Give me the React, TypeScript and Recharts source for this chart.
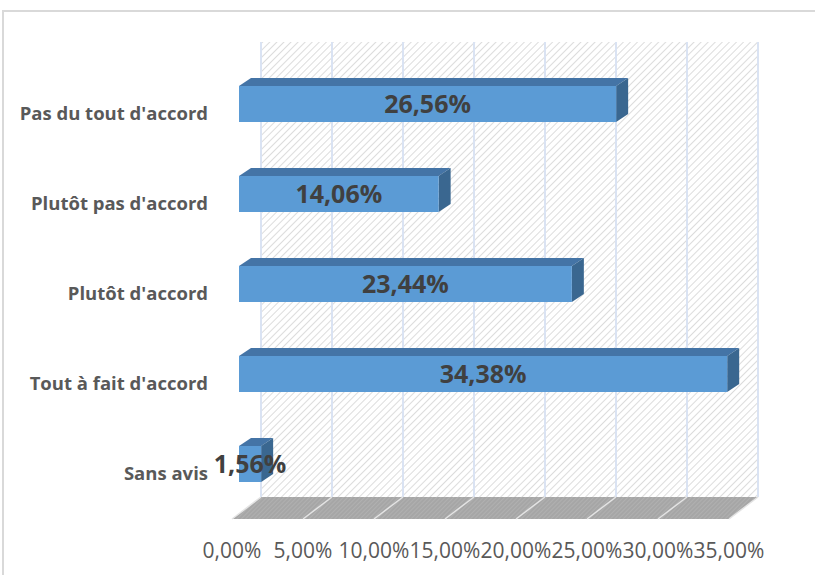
import React from 'react';
import { BarChart, Bar, XAxis, YAxis, ReferenceArea, LabelList } from 'recharts';

const categories = ["Pas du tout d'accord", "Plutôt pas d'accord", "Plutôt d'accord", "Tout à fait d'accord", 'Sans avis'];
const values = [26.56, 14.06, 23.44, 34.38, 1.56];
const xTicks = [0, 5, 10, 15, 20, 25, 30, 35];

const data = categories.map((name, i) => ({ name, value: values[i] }));

const fmt = (v: number) => v.toFixed(2).replace('.', ',') + '%';

// 3D look: offsets for the back wall / floor and for the bar boxes
const BACK = 22;
const FRONT = -7;
const DX = 12;
const DY = 8;

const Wall = (props: any) => {
  const { x, y, width, height } = props;
  const k = width / (xTicks[xTicks.length - 1] - xTicks[0]);
  const top = y - 17;
  const bottom = y + height - 12;
  const front = bottom + 22;
  return (
    <g>
      <defs>
        <pattern id="hatch" width="5" height="5" patternUnits="userSpaceOnUse" patternTransform="rotate(45)">
          <rect width="5" height="5" fill="#ffffff" />
          <line x1="0" y1="0" x2="0" y2="5" stroke="#d6d6d6" strokeWidth="1.7" />
        </pattern>
        <pattern id="floorHatch" width="3" height="3" patternUnits="userSpaceOnUse" patternTransform="rotate(45)">
          <rect width="3" height="3" fill="#a6a6a6" />
          <line x1="0" y1="0" x2="0" y2="3" stroke="#bababa" strokeWidth="1" />
        </pattern>
      </defs>
      <rect x={x + BACK} y={top} width={width} height={bottom - top} fill="url(#hatch)" />
      {xTicks.map((t) => (
        <line key={'w' + t} x1={x + t * k + BACK} x2={x + t * k + BACK} y1={top} y2={bottom} stroke="#dae3f3" strokeWidth={2} />
      ))}
      <polygon
        points={`${x + BACK},${bottom} ${x + width + BACK},${bottom} ${x + width + FRONT},${front} ${x + FRONT},${front}`}
        fill="url(#floorHatch)"
      />
      {xTicks.map((t) => (
        <line key={'f' + t} x1={x + t * k + BACK} y1={bottom} x2={x + t * k + FRONT} y2={front} stroke="#e4e4e4" strokeWidth={1.5} />
      ))}
    </g>
  );
};

const Box = (props: any) => {
  const { x, y, width, height } = props;
  if (!width) return null;
  return (
    <g>
      <polygon points={`${x},${y} ${x + DX},${y - DY} ${x + width + DX},${y - DY} ${x + width},${y}`} fill="#4474a6" />
      <polygon points={`${x + width},${y} ${x + width + DX},${y - DY} ${x + width + DX},${y + height - DY} ${x + width},${y + height}`} fill="#3a6790" />
      <rect x={x} y={y} width={width} height={height} fill="#5b9bd5" />
    </g>
  );
};

const BarValue = (props: any) => {
  const { x, y, width, height, value } = props;
  return (
    <text x={x + width / 2} y={y + height / 2 + 9} textAnchor="middle" fill="#404040" fontSize={25} fontWeight={700} fontFamily="'Open Sans', sans-serif">
      {fmt(value)}
    </text>
  );
};

const CatTick = (props: any) => {
  const { x, y, payload } = props;
  return (
    <text x={x} y={y + 16} textAnchor="end" fill="#595959" fontSize={18.5} fontWeight={700} fontFamily="'Open Sans', sans-serif">
      {payload.value}
    </text>
  );
};

const PctTick = (props: any) => {
  const { x, y, payload } = props;
  return (
    <text x={x + FRONT} y={y + 47} textAnchor="middle" fill="#595959" fontSize={21} fontFamily="'Open Sans', sans-serif">
      {fmt(payload.value)}
    </text>
  );
};

export default function App() {
  return (
    <div style={{ position: 'absolute', left: 0, top: 0, width: 815, height: 575, background: '#fff', overflow: 'hidden' }}>
      <div style={{ position: 'absolute', left: 2, top: 10, width: 900, height: 700, borderTop: '2px solid #d9d9d9', borderLeft: '2px solid #d9d9d9' }} />
      <div style={{ position: 'absolute', left: 0, top: 0 }}>
        <BarChart width={815} height={575} data={data} layout="vertical" margin={{ top: 59, right: 79, bottom: 6, left: 9 }}>
          <XAxis type="number" domain={[0, 35]} ticks={xTicks} axisLine={false} tickLine={false} tickSize={0} height={60} tick={<PctTick />} interval={0} />
          <YAxis type="category" dataKey="name" width={230} axisLine={false} tickLine={false} tickSize={0} tickMargin={31} tick={<CatTick />} interval={0} />
          <ReferenceArea x1={0} x2={35} ifOverflow="visible" shape={<Wall />} />
          <Bar dataKey="value" barSize={36} shape={<Box />} isAnimationActive={false}>
            <LabelList dataKey="value" content={<BarValue />} />
          </Bar>
        </BarChart>
      </div>
    </div>
  );
}
